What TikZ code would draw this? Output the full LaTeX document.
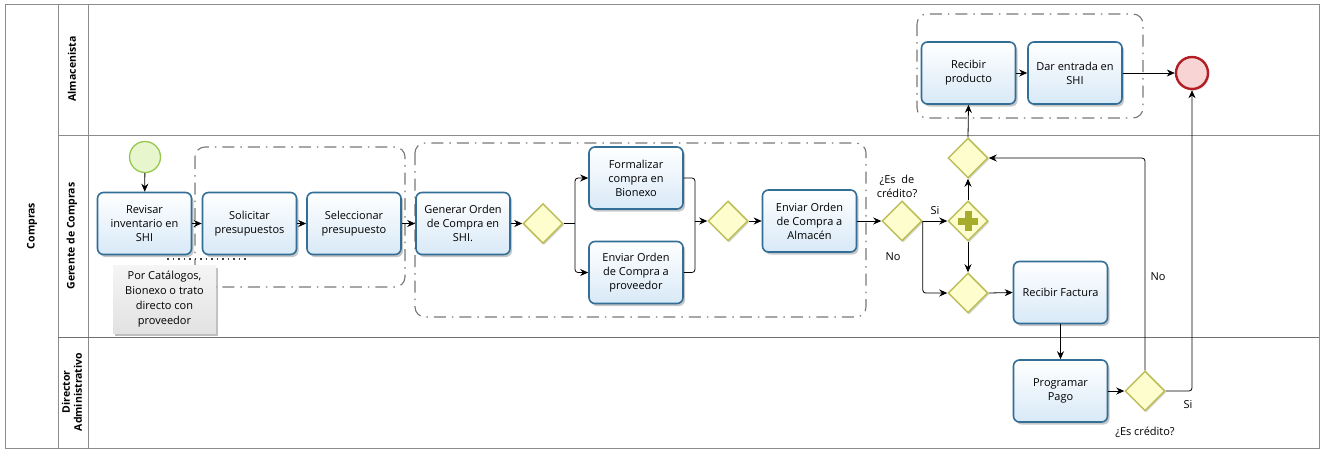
\documentclass[tikz,border=0pt]{standalone}
\usepackage{fontspec}
\setmainfont{Open Sans}
\usetikzlibrary{shapes.geometric,shadows,arrows.meta,calc}

\definecolor{taskline}{RGB}{50,110,150}
\definecolor{taskfill}{RGB}{216,233,247}
\definecolor{gwline}{RGB}{188,190,88}
\definecolor{gwfill}{RGB}{253,253,206}
\definecolor{plusfill}{RGB}{168,172,44}
\definecolor{startline}{RGB}{150,200,80}
\definecolor{startfill}{RGB}{232,246,205}
\definecolor{endline}{RGB}{178,30,36}
\definecolor{endfill}{RGB}{249,212,212}
\definecolor{poolline}{RGB}{140,140,140}
\definecolor{grpline}{RGB}{120,120,120}
\definecolor{notefill}{RGB}{226,226,226}

\begin{document}
\begin{tikzpicture}[x=1pt,y=-1pt,
  font=\fontsize{11}{14}\selectfont,
  task/.style={rectangle, rounded corners=6pt, draw=taskline, line width=1.6pt,
    top color=white, bottom color=taskfill, minimum width=94pt, minimum height=62pt,
    align=center, inner sep=2pt,
    drop shadow={shadow xshift=2pt, shadow yshift=-2.5pt, opacity=0.22, fill=black}},
  gw/.style={diamond, aspect=1, minimum width=40pt, minimum height=40pt, inner sep=0pt,
    draw=gwline, fill=gwfill, line width=1.5pt,
    drop shadow={shadow xshift=1.5pt, shadow yshift=-1.5pt, opacity=0.15, fill=black}},
  startev/.style={circle, minimum size=31pt, inner sep=0pt, draw=startline, fill=startfill, line width=1.3pt},
  endev/.style={circle, minimum size=32pt, inner sep=0pt, draw=endline, fill=endfill, line width=2.4pt,
    drop shadow={shadow xshift=1.5pt, shadow yshift=-1.5pt, opacity=0.15, fill=black}},
  grp/.style={draw=grpline, line width=1.1pt, rounded corners=10pt,
    dash pattern=on 12pt off 6pt on 1.5pt off 6pt},
  flow/.style={line width=0.8pt, -{Stealth[length=8pt,width=7pt]}, rounded corners=3pt},
  plain/.style={line width=0.8pt, rounded corners=3pt},
  lanelbl/.style={rotate=90, font=\bfseries\fontsize{10.5}{12}\selectfont, align=center},
  lbl/.style={font=\fontsize{11}{14}\selectfont, align=center, inner sep=0pt},
  note/.style={rectangle, fill=notefill, top color=gray!8, bottom color=notefill,
    minimum width=103pt, minimum height=68pt, align=center, inner sep=1pt,
    font=\fontsize{11}{15}\selectfont,
    drop shadow={shadow xshift=2pt, shadow yshift=-2.5pt, opacity=0.25, fill=black}}
]
\useasboundingbox (0,0) rectangle (1320,451);
\fill[white] (0,0) rectangle (1320,451);

% pool and lanes
\draw[poolline, line width=1pt] (5,4) rectangle (1319,448);
\draw[poolline, line width=1pt] (58,4) -- (58,448);
\draw[poolline, line width=1pt] (88,4) -- (88,448);
\draw[poolline, line width=1pt] (58,135) -- (1319,135);
\draw[poolline!80!black, line width=1pt] (58,337) -- (1319,337);

\node[lanelbl] (pool) at (32,226) {Compras};
\node[lanelbl] (laneA) at (72,69) {Almacenista};
\node[lanelbl] (laneG) at (72,236) {Gerente de Compras};
\node[lanelbl] (laneD) at (72,392) {Director\\Administrativo};

% groups
\draw[grp] (195,147) rectangle (405,287);
\draw[grp] (415,143) rectangle (866,317);
\draw[grp] (917,14) rectangle (1143,118);

% annotation
\node[note] (nota) at (164.5,299) {Por Catálogos,\\Bionexo o trato\\directo con\\proveedor};
\coordinate (assocA) at (167,259);
\coordinate (assocB) at (247,259);
\draw[line width=1.2pt, dash pattern=on 1.5pt off 4pt, black!75] (assocA) -- (assocB);

% events
\node[startev] (start) at (145,157) {};
\node[endev] (fin) at (1192,73) {};

% tasks
\node[task] (rev) at (144.5,223.5) {Revisar\\inventario en\\SHI};
\node[task] (sol) at (249.5,223.5) {Solicitar\\presupuestos};
\node[task] (sel) at (354,223.5) {Seleccionar\\presupuesto};
\node[task] (gen) at (463,223.5) {Generar Orden\\de Compra en\\SHI.};
\node[task] (form) at (636,178) {Formalizar\\compra en\\Bionexo};
\node[task] (envp) at (636,272.5) {Enviar Orden\\de Compra a\\proveedor};
\node[task] (alm) at (809.5,221) {Enviar Orden\\de Compra a\\Almacén};
\node[task] (recp) at (968.5,73) {Recibir\\producto};
\node[task] (dar) at (1075,73) {Dar entrada en\\SHI};
\node[task] (fact) at (1060.5,292.5) {Recibir Factura};
\node[task] (prog) at (1060.5,391) {Programar\\Pago};

% gateways
\node[gw] (g1) at (543,223.5) {};
\node[gw] (g2) at (728,221) {};
\node[gw] (gcred) at (902,221) {};
\node[gw] (par) at (968,221) {};
\node[gw] (gup) at (968,158) {};
\node[gw] (glow) at (968,293) {};
\node[gw] (gcr2) at (1145,391) {};
\fill[plusfill] ($(par)+(-10,-3.5)$) rectangle ($(par)+(10,3.5)$);
\fill[plusfill] ($(par)+(-3.5,-10)$) rectangle ($(par)+(3.5,10)$);

% junction points of the split and merge
\coordinate (split1) at (575,223.5);
\coordinate (merge1) at (695,221);

% sequence flows
\draw[flow] (start) -- (rev);
\draw[flow] (rev) -- (sol);
\draw[flow] (sol) -- (sel);
\draw[flow] (sel) -- (gen);
\draw[flow] (gen) -- (g1);
\draw[plain] (g1.east) -- (split1);
\draw[flow] (split1) |- (form.west);
\draw[flow] (split1) |- (envp.west);
\draw[plain] (form.east) -| (merge1);
\draw[plain] (envp.east) -| (merge1);
\draw[flow] (merge1) -- (g2.west);
\draw[flow] (g2) -- (alm);
\draw[flow] (alm) -- (gcred);
\draw[flow] (gcred.east) -- (par.west);
\draw[flow] (gcred.east) |- (glow.west);
\draw[flow] (par.north) -- (gup.south);
\draw[flow] (par.south) -- (glow.north);
\draw[flow] (gup.north) -- (recp.south);
\draw[flow] (recp) -- (dar);
\draw[flow] (dar) -- (fin);
\draw[flow] (glow.east) -- (fact.west);
\draw[flow] (fact) -- (prog);
\draw[flow] (prog) -- (gcr2);
\draw[flow] (gcr2.north) |- (gup.east);
\draw[flow] (gcr2.east) -| (fin.south);

% flow and gateway labels
\node[lbl] (qcred) at (897,186) {¿Es~ de\\crédito?};
\node[lbl] (lsi1) at (935,211) {Si};
\node[lbl] (lno1) at (893,257) {No};
\node[lbl] (lno2) at (1158,277) {No};
\node[lbl] (lsi2) at (1188,405) {Si};
\node[lbl] (qcr2) at (1145,432) {¿Es crédito?};
\end{tikzpicture}
\end{document}
